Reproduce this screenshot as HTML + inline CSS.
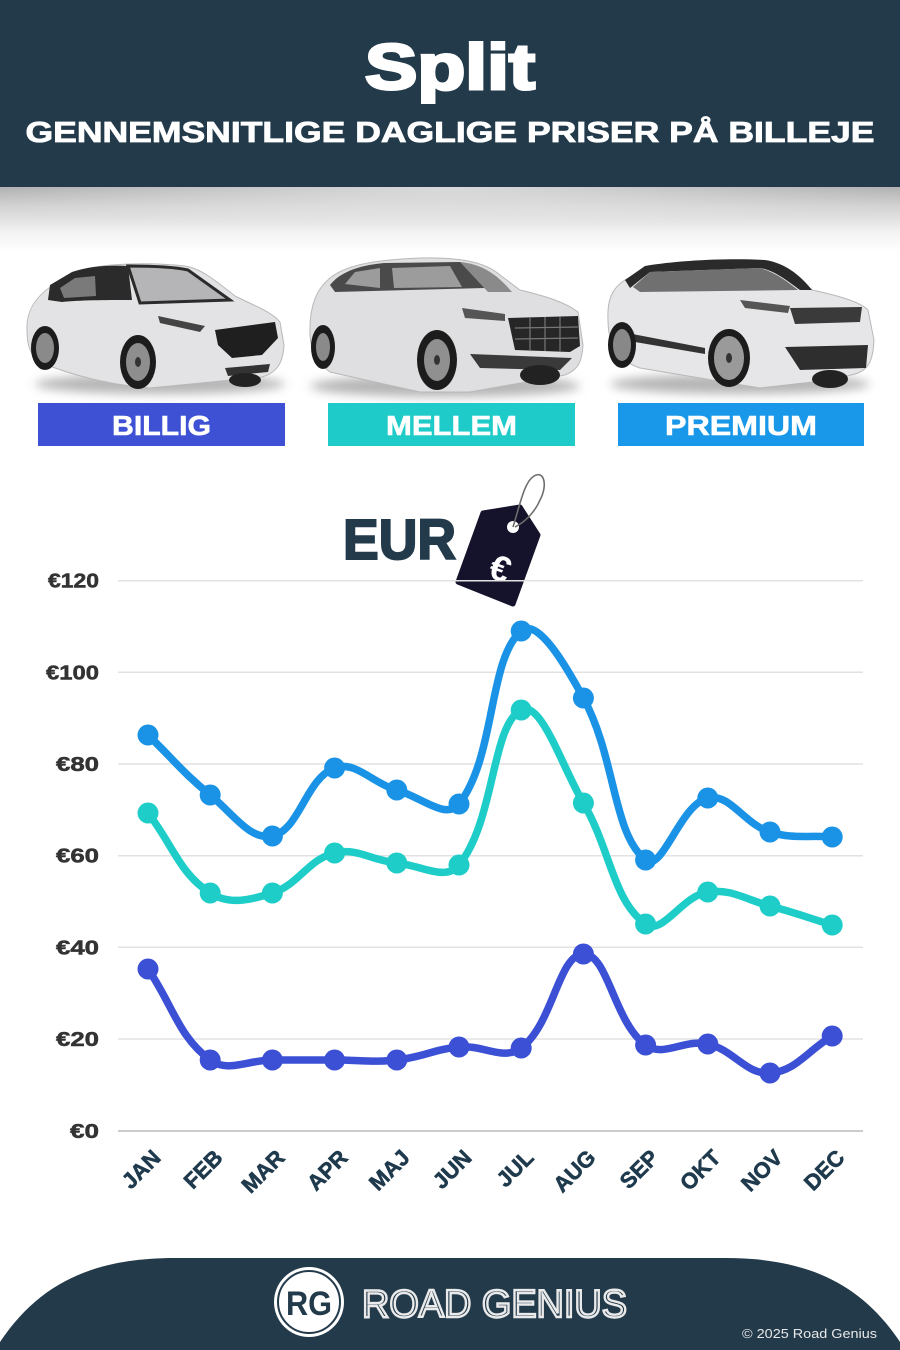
<!DOCTYPE html>
<html>
<head>
<meta charset="utf-8">
<style>
html,body{margin:0;padding:0;background:#fff;}
svg{display:block;}
text{font-family:"Liberation Sans",Arial,sans-serif;}
</style>
</head>
<body>
<svg width="900" height="1350" viewBox="0 0 900 1350" xmlns="http://www.w3.org/2000/svg">
<defs>
  <linearGradient id="shade" x1="0" y1="0" x2="0" y2="1">
    <stop offset="0" stop-color="#a9a9a9"/>
    <stop offset="0.3" stop-color="#d2d2d2"/>
    <stop offset="0.7" stop-color="#f3f3f3"/>
    <stop offset="1" stop-color="#ffffff"/>
  </linearGradient>
  <radialGradient id="centerlight" cx="0.5" cy="0" r="0.6">
    <stop offset="0" stop-color="#fff" stop-opacity="0.55"/>
    <stop offset="1" stop-color="#fff" stop-opacity="0"/>
  </radialGradient>
  <filter id="blur" x="-20%" y="-100%" width="140%" height="300%"><feGaussianBlur stdDeviation="5"/></filter>
</defs>

<!-- header -->
<rect x="0" y="0" width="900" height="187" fill="#233a4b"/>
<rect x="0" y="187" width="900" height="65" fill="url(#shade)"/>
<rect x="0" y="187" width="900" height="65" fill="url(#centerlight)"/>
<text x="450" y="89" text-anchor="middle" font-size="64" font-weight="bold" fill="#fff" stroke="#fff" stroke-width="3" textLength="170" lengthAdjust="spacingAndGlyphs">Split</text>
<text x="450" y="142" text-anchor="middle" font-size="29" font-weight="bold" fill="#fff" stroke="#fff" stroke-width="0.8" textLength="849" lengthAdjust="spacingAndGlyphs">GENNEMSNITLIGE DAGLIGE PRISER PÅ BILLEJE</text>

<!-- car 1 -->
<ellipse cx="160" cy="384" rx="125" ry="10" fill="#b5b5b5" filter="url(#blur)"/>
<path d="M27,330 C26,312 35,296 55,284 L75,272 C100,263 150,262 185,266 C200,268 215,280 235,296 C255,306 272,312 280,322 L284,345 C283,362 278,372 262,377 L150,388 C110,385 70,375 40,362 C30,355 27,345 27,330 Z" fill="#e3e3e5" stroke="#b8b8b8" stroke-width="1"/>
<path d="M50,285 L72,272 C90,266 110,265 128,266 L132,300 C110,300 80,300 62,302 L48,300 Z" fill="#2b2b2b"/>
<path d="M60,288 L75,278 L95,276 L96,296 L64,298 Z" fill="#7a7a7a"/>
<path d="M128,266 C150,266 175,267 188,270 L230,300 L140,303 Z" fill="#b5b5b7" stroke="#2b2b2b" stroke-width="3"/>
<path d="M215,330 L275,322 L278,338 L262,355 L232,358 L218,345 Z" fill="#1f1f1f"/>
<path d="M158,316 L205,326 L200,332 L160,323 Z" fill="#444"/>
<path d="M225,368 L270,364 L268,372 L228,376 Z" fill="#333"/>
<ellipse cx="245" cy="380" rx="16" ry="7" fill="#222"/>
<ellipse cx="45" cy="348" rx="14" ry="22" fill="#1c1c1c"/>
<ellipse cx="45" cy="348" rx="9" ry="15" fill="#8a8a8a"/>
<ellipse cx="138" cy="362" rx="18" ry="27" fill="#1c1c1c"/>
<ellipse cx="138" cy="362" rx="12" ry="19" fill="#8e8e8e"/>
<ellipse cx="138" cy="362" rx="3" ry="5" fill="#333"/>

<!-- car 2 -->
<ellipse cx="445" cy="386" rx="135" ry="11" fill="#b5b5b5" filter="url(#blur)"/>
<path d="M310,335 C309,310 315,290 330,278 C345,266 370,260 420,258 C460,257 485,262 500,275 L520,290 C545,296 565,302 578,312 L583,345 C582,362 578,370 565,375 L470,392 L420,392 L330,372 C316,362 311,350 310,335 Z" fill="#dfdfe1" stroke="#b8b8b8" stroke-width="1"/>
<path d="M330,285 C340,272 360,265 385,263 L460,262 C472,266 480,275 485,288 L335,292 Z" fill="#4a4a4a"/>
<path d="M345,284 L355,272 L380,268 L380,288 Z M392,268 L450,266 L462,287 L394,288 Z" fill="#9c9c9c"/>
<path d="M460,262 C480,264 495,272 512,292 L488,292 Z" fill="#8a8a8a"/>
<path d="M508,318 L578,316 L580,346 L570,352 L515,350 Z" fill="#262626"/>
<path d="M515,328 L578,327 M515,339 L578,338 M530,318 L530,350 M545,317 L545,351 M560,317 L560,351" stroke="#777" stroke-width="1.2"/>
<path d="M462,308 L505,314 L505,321 L465,318 Z" fill="#555"/>
<path d="M470,354 L572,358 L560,370 L480,368 Z" fill="#3a3a3a"/>
<ellipse cx="540" cy="375" rx="20" ry="10" fill="#222"/>
<ellipse cx="323" cy="347" rx="12" ry="22" fill="#1c1c1c"/>
<ellipse cx="323" cy="347" rx="7" ry="14" fill="#8a8a8a"/>
<ellipse cx="437" cy="360" rx="20" ry="30" fill="#1c1c1c"/>
<ellipse cx="437" cy="360" rx="13" ry="21" fill="#909090"/>
<ellipse cx="437" cy="360" rx="3" ry="5" fill="#333"/>

<!-- car 3 -->
<ellipse cx="740" cy="384" rx="130" ry="10" fill="#b5b5b5" filter="url(#blur)"/>
<path d="M608,320 C607,300 612,288 625,280 L645,268 C680,262 730,260 760,262 C785,266 800,278 812,290 C840,296 860,302 868,310 L874,340 C873,362 868,370 855,374 L830,380 L760,388 L700,378 L640,368 C615,360 608,340 608,320 Z" fill="#e6e6e8" stroke="#b8b8b8" stroke-width="1"/>
<path d="M625,280 L645,266 C680,260 730,258 765,260 C785,263 800,275 812,290 L800,290 C790,283 775,270 760,268 L650,272 L630,288 Z" fill="#2a2a2a"/>
<path d="M633,287 L650,272 L760,268 C775,272 788,282 798,290 L640,292 Z" fill="#707070"/>
<path d="M790,308 L862,307 L860,322 L795,324 Z" fill="#3a3a3a"/>
<path d="M740,300 L790,306 L788,313 L745,308 Z" fill="#555"/>
<path d="M785,347 L868,345 L866,368 L800,370 Z" fill="#2e2e2e"/>
<path d="M612,330 L705,348 L705,354 L612,338 Z" fill="#333"/>
<ellipse cx="830" cy="379" rx="18" ry="9" fill="#222"/>
<ellipse cx="622" cy="345" rx="14" ry="23" fill="#1c1c1c"/>
<ellipse cx="622" cy="345" rx="9" ry="16" fill="#888"/>
<ellipse cx="729" cy="358" rx="21" ry="29" fill="#1c1c1c"/>
<ellipse cx="729" cy="358" rx="15" ry="22" fill="#9a9a9a"/>
<ellipse cx="729" cy="358" rx="3" ry="5" fill="#333"/>

<!-- badges -->
<rect x="38" y="403" width="247" height="43" fill="#3e51d5"/>
<text x="161.5" y="435" text-anchor="middle" font-size="28" font-weight="bold" fill="#fff" stroke="#fff" stroke-width="0.6" textLength="99" lengthAdjust="spacingAndGlyphs">BILLIG</text>
<rect x="328" y="403" width="247" height="43" fill="#1ecbc8"/>
<text x="451.5" y="435" text-anchor="middle" font-size="28" font-weight="bold" fill="#fff" stroke="#fff" stroke-width="0.6" textLength="131" lengthAdjust="spacingAndGlyphs">MELLEM</text>
<rect x="618" y="403" width="246" height="43" fill="#1998e9"/>
<text x="741" y="435" text-anchor="middle" font-size="28" font-weight="bold" fill="#fff" stroke="#fff" stroke-width="0.6" textLength="152" lengthAdjust="spacingAndGlyphs">PREMIUM</text>

<!-- EUR + tag -->
<text x="343" y="559" font-size="57" font-weight="bold" fill="#233a4b" stroke="#233a4b" stroke-width="2" textLength="113" lengthAdjust="spacingAndGlyphs">EUR</text>
<path d="M483,513 L520,507 L538,535 L513,604 L458,582 Z" fill="#15122b" stroke="#15122b" stroke-width="5" stroke-linejoin="round"/>
<circle cx="513" cy="527" r="6" fill="#fff"/>
<path d="M513,527 C520,505 524,482 534,476 C544,470 548,485 540,500 C535,512 525,522 515,527" fill="none" stroke="#6e6e6e" stroke-width="1.6"/>
<text x="0" y="0" transform="translate(496,580) rotate(20)" text-anchor="middle" font-size="36" font-weight="bold" fill="#fff">€</text>

<!-- grid -->
<g stroke="#e2e2e2" stroke-width="1.5">
  <line x1="118" y1="580.7" x2="863" y2="580.7"/>
  <line x1="118" y1="672.3" x2="863" y2="672.3"/>
  <line x1="118" y1="764" x2="863" y2="764"/>
  <line x1="118" y1="855.7" x2="863" y2="855.7"/>
  <line x1="118" y1="947.3" x2="863" y2="947.3"/>
  <line x1="118" y1="1039" x2="863" y2="1039"/>
</g>
<line x1="118" y1="1131" x2="863" y2="1131" stroke="#bcbcbc" stroke-width="1.5"/>

<!-- y labels -->
<g font-size="20" font-weight="bold" fill="#333" stroke="#333" stroke-width="0.5" text-anchor="end">
  <text x="99" y="587.7" textLength="51" lengthAdjust="spacingAndGlyphs">€120</text>
  <text x="99" y="679.3" textLength="53" lengthAdjust="spacingAndGlyphs">€100</text>
  <text x="99" y="771" textLength="43" lengthAdjust="spacingAndGlyphs">€80</text>
  <text x="99" y="862.7" textLength="43" lengthAdjust="spacingAndGlyphs">€60</text>
  <text x="99" y="954.3" textLength="43" lengthAdjust="spacingAndGlyphs">€40</text>
  <text x="99" y="1046" textLength="43" lengthAdjust="spacingAndGlyphs">€20</text>
  <text x="99" y="1138" textLength="29" lengthAdjust="spacingAndGlyphs">€0</text>
</g>

<!-- x labels -->
<g font-size="22" font-weight="bold" fill="#1f3a4d" stroke="#1f3a4d" stroke-width="0.6" text-anchor="end">
  <text transform="translate(162,1159) rotate(-45)">JAN</text>
  <text transform="translate(224,1159) rotate(-45)">FEB</text>
  <text transform="translate(286,1159) rotate(-45)">MAR</text>
  <text transform="translate(349,1159) rotate(-45)">APR</text>
  <text transform="translate(411,1159) rotate(-45)">MAJ</text>
  <text transform="translate(473,1159) rotate(-45)">JUN</text>
  <text transform="translate(535,1159) rotate(-45)">JUL</text>
  <text transform="translate(597,1159) rotate(-45)">AUG</text>
  <text transform="translate(660,1159) rotate(-45)">SEP</text>
  <text transform="translate(722,1159) rotate(-45)">OKT</text>
  <text transform="translate(784,1159) rotate(-45)">NOV</text>
  <text transform="translate(846,1159) rotate(-45)">DEC</text>
</g>

<!-- series -->
<g fill="none" stroke-width="7.5" stroke-linecap="round" stroke-linejoin="round">
  <path stroke="#1a93e6" d="M148,735 C172.9,759 183.5,773.3 210.2,795 C233.2,813.7 250.1,840.8 272.4,836 C299.9,830 305.6,778.7 334.6,768 C355.4,760.3 371.5,782.7 396.8,790 C421.3,797.1 446.2,820.4 459,804 C495.9,756.8 488,659.3 521.2,631 C537.7,616.9 566.2,666.4 583.4,698 C616,758 612.5,833.4 645.6,860 C662.3,873.4 680.3,804.2 707.8,798 C730.1,793 743.5,823.7 770,832 C793.3,839.3 807.3,835 832.2,837"/>
  <path stroke="#1ecdc8" d="M148,813 C172.9,845 179.3,873.2 210.2,893 C229.1,905.2 249.6,900.3 272.4,893 C299.4,884.3 307.7,859.5 334.6,853 C357.5,847.5 371.8,860.6 396.8,863 C421.6,865.4 445.4,881.7 459,865 C495.2,820.5 491.3,724.9 521.2,710 C541.1,700.1 561,764.5 583.4,803 C610.8,850.1 612.8,900.5 645.6,924 C662.5,936.1 681.8,895.8 707.8,892 C731.6,888.6 745.4,899.5 770,906 C795.1,912.7 807.3,917.4 832.2,925"/>
  <path stroke="#3c50d5" d="M148,969 C172.9,1005.4 178.4,1036.7 210.2,1060 C228.1,1073.1 247.5,1060 272.4,1060 C297.3,1060 309.7,1060 334.6,1060 C359.5,1060 372.2,1062.6 396.8,1060 C421.9,1057.4 433.9,1049.4 459,1047 C483.6,1044.6 503.5,1061.2 521.2,1048 C553.3,1024 558.3,954.6 583.4,954 C608,953.4 613.8,1022 645.6,1045 C663.5,1058 684.2,1038.7 707.8,1044 C733.9,1049.9 745.7,1074.6 770,1073 C795.5,1071.4 807.3,1050.8 832.2,1036"/>
</g>
<g fill="#1a93e6">
  <circle cx="148" cy="735" r="10.5"/><circle cx="210.2" cy="795" r="10.5"/><circle cx="272.4" cy="836" r="10.5"/><circle cx="334.6" cy="768" r="10.5"/><circle cx="396.8" cy="790" r="10.5"/><circle cx="459" cy="804" r="10.5"/><circle cx="521.2" cy="631" r="10.5"/><circle cx="583.4" cy="698" r="10.5"/><circle cx="645.6" cy="860" r="10.5"/><circle cx="707.8" cy="798" r="10.5"/><circle cx="770" cy="832" r="10.5"/><circle cx="832.2" cy="837" r="10.5"/>
</g>
<g fill="#1ecdc8">
  <circle cx="148" cy="813" r="10.5"/><circle cx="210.2" cy="893" r="10.5"/><circle cx="272.4" cy="893" r="10.5"/><circle cx="334.6" cy="853" r="10.5"/><circle cx="396.8" cy="863" r="10.5"/><circle cx="459" cy="865" r="10.5"/><circle cx="521.2" cy="710" r="10.5"/><circle cx="583.4" cy="803" r="10.5"/><circle cx="645.6" cy="924" r="10.5"/><circle cx="707.8" cy="892" r="10.5"/><circle cx="770" cy="906" r="10.5"/><circle cx="832.2" cy="925" r="10.5"/>
</g>
<g fill="#3c50d5">
  <circle cx="148" cy="969" r="10.5"/><circle cx="210.2" cy="1060" r="10.5"/><circle cx="272.4" cy="1060" r="10.5"/><circle cx="334.6" cy="1060" r="10.5"/><circle cx="396.8" cy="1060" r="10.5"/><circle cx="459" cy="1047" r="10.5"/><circle cx="521.2" cy="1048" r="10.5"/><circle cx="583.4" cy="954" r="10.5"/><circle cx="645.6" cy="1045" r="10.5"/><circle cx="707.8" cy="1044" r="10.5"/><circle cx="770" cy="1073" r="10.5"/><circle cx="832.2" cy="1036" r="10.5"/>
</g>

<!-- footer -->
<path d="M0,1350 L0,1342 C40,1282 95,1258 175,1258 L725,1258 C805,1258 860,1282 900,1342 L900,1350 Z" fill="#233a4b"/>
<circle cx="309" cy="1302" r="35" fill="#fff"/>
<circle cx="309" cy="1302" r="31" fill="none" stroke="#233a4b" stroke-width="2"/>
<text x="309" y="1315" text-anchor="middle" font-size="34" font-weight="bold" fill="#233a4b" textLength="46" lengthAdjust="spacingAndGlyphs">RG</text>
<text x="362" y="1317" font-size="39" fill="none" stroke="#eaeaea" stroke-width="2.4" textLength="265" lengthAdjust="spacingAndGlyphs">ROAD GENIUS</text>
<text x="877" y="1338" text-anchor="end" font-size="13" fill="#e8e8e8" textLength="135" lengthAdjust="spacingAndGlyphs">© 2025 Road Genius</text>
</svg>
</body>
</html>
